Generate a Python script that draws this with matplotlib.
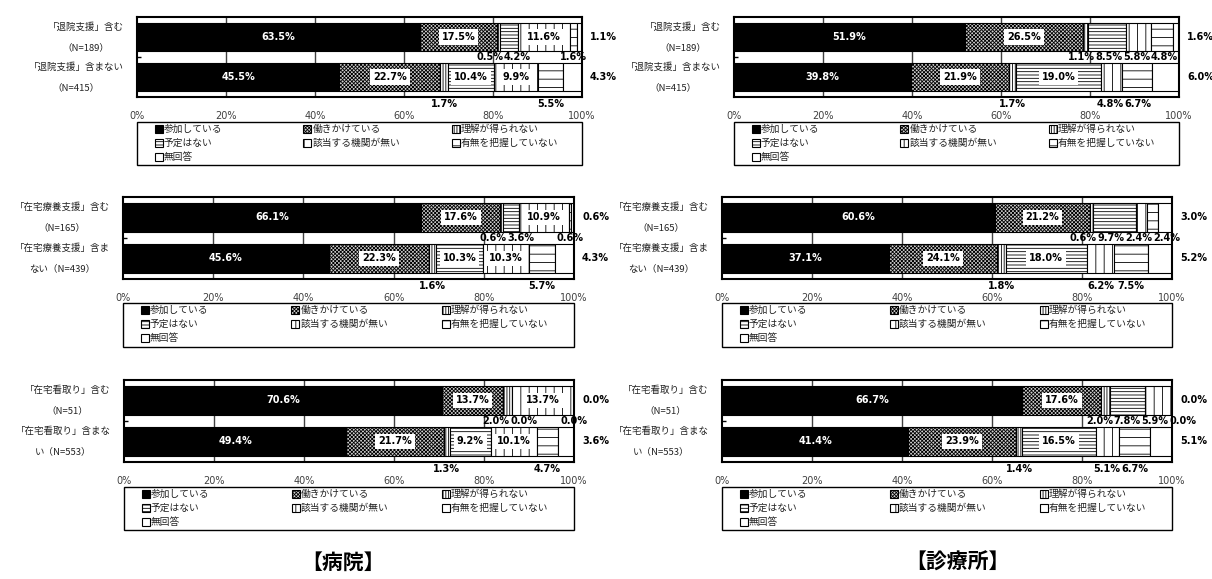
import matplotlib
matplotlib.use('Agg')
import matplotlib.pyplot as plt
from matplotlib.patches import Rectangle
import matplotlib.transforms as mtransforms

plt.rcParams['font.family'] = ['Noto Sans CJK JP', 'DejaVu Sans']
plt.rcParams['hatch.linewidth'] = 0.6

# answer categories (stack order) and their fills
answers = ['参加している', '働きかけている', '理解が得られない', '予定はない',
           '該当する機関が無い', '有無を把握していない', '無回答']
fills = ['black', '#d0d0d0', 'white', 'white', 'white', 'white', 'white']
hatches = ['', 'xxxxxxxxx', '||||||', '-----', '||', '--', '']

row_labels = [
    ['「退院支援」含む\n（N=189）', '「退院支援」含まない\n（N=415）'],
    ['「在宅療養支援」含む\n（N=165）', '「在宅療養支援」含ま\nない（N=439）'],
    ['「在宅看取り」含む\n（N=51）', '「在宅看取り」含まな\nい（N=553）'],
]

# 病院
hosp_discharge = [[63.5, 17.5, 0.5, 4.2, 11.6, 1.6, 1.1],
                  [45.5, 22.7, 1.7, 10.4, 9.9, 5.5, 4.3]]
hosp_homecare = [[66.1, 17.6, 0.6, 3.6, 10.9, 0.6, 0.6],
                 [45.6, 22.3, 1.6, 10.3, 10.3, 5.7, 4.3]]
hosp_endoflife = [[70.6, 13.7, 2.0, 0.0, 13.7, 0.0, 0.0],
                  [49.4, 21.7, 1.3, 9.2, 10.1, 4.7, 3.6]]
# 診療所
clin_discharge = [[51.9, 26.5, 1.1, 8.5, 5.8, 4.8, 1.6],
                  [39.8, 21.9, 1.7, 19.0, 4.8, 6.7, 6.0]]
clin_homecare = [[60.6, 21.2, 0.6, 9.7, 2.4, 2.4, 3.0],
                 [37.1, 24.1, 1.8, 18.0, 6.2, 7.5, 5.2]]
clin_endoflife = [[66.7, 17.6, 2.0, 7.8, 5.9, 0.0, 0.0],
                  [41.4, 23.9, 1.4, 16.5, 5.1, 6.7, 5.1]]

xticks = [0, 20, 40, 60, 80, 100]

W, H = 1212, 579
fig = plt.figure(figsize=(W / 100, H / 100), dpi=100)

def px_axes(l, r, t, b):
    return fig.add_axes([l / W, 1 - b / H, (r - l) / W, (b - t) / H])

def spread(centers, minsep):
    c = list(centers)
    for _ in range(60):
        for i in range(len(c) - 1):
            d = c[i + 1] - c[i]
            if d < minsep:
                s = (minsep - d) / 2
                c[i] -= s
                c[i + 1] += s
    return c

def draw_panel(box, legbox, data, labels, inside_min):
    ax = px_axes(*box)
    for r, vals in enumerate(data):
        left = 0
        for k, v in enumerate(vals):
            ax.barh(r, v, left=left, height=0.7, color=fills[k], hatch=hatches[k],
                    edgecolor='black', linewidth=0.8, zorder=2)
            left += v
    ax.set_xlim(0, 100)
    ax.set_ylim(1.5, -0.5)
    ax.set_xticks(xticks)
    ax.set_xticklabels([f'{t}%' for t in xticks], family='DejaVu Sans',
                       fontsize=7, color='#404040')
    ax.tick_params(axis='x', length=0, pad=10)
    ax.set_yticks([0.5])
    ax.set_yticklabels([''])
    ax.tick_params(axis='y', direction='in', length=3, width=1)
    for s in ax.spines.values():
        s.set_linewidth(1.5)
    for t in xticks[1:-1]:
        ax.axvline(t, color='#404040', linewidth=1, zorder=1)

    # category labels left of the axes
    for r, lab in enumerate(labels):
        ax.text(-0.03, r, lab, transform=mtransforms.blended_transform_factory(ax.transAxes, ax.transData),
                ha='right', va='center', multialignment='center', fontsize=6.8,
                linespacing=2.6, color='#222222')

    under = mtransforms.blended_transform_factory(ax.transData, ax.transAxes)
    side = mtransforms.blended_transform_factory(ax.transAxes, ax.transData)
    for r, vals in enumerate(data):
        starts = [sum(vals[:k]) for k in range(len(vals))]
        outs = []
        for k, v in enumerate(vals[:-1]):
            mid = starts[k] + v / 2
            if k == 0:
                ax.text(mid, r, f'{v:.1f}%', ha='center', va='center', color='white',
                        fontsize=7, fontweight='bold', family='DejaVu Sans', zorder=4)
            elif v >= inside_min:
                ax.text(mid, r, f'{v:.1f}%', ha='center', va='center', color='black',
                        fontsize=7, fontweight='bold', family='DejaVu Sans', zorder=4,
                        bbox=dict(boxstyle='square,pad=0.3', fc='white', ec='none'))
            else:
                outs.append((mid, v))
        pos = spread([m for m, _ in outs], 6.2)
        for x, (_, v) in zip(pos, outs):
            if r == 0:
                ax.text(x, 0.5, f'{v:.1f}%', ha='center', va='center', fontsize=7,
                        fontweight='bold', family='DejaVu Sans', zorder=4)
            else:
                ax.text(x, -0.085, f'{v:.1f}%', transform=under, ha='center', va='center',
                        fontsize=7, fontweight='bold', family='DejaVu Sans', zorder=4,
                        clip_on=False)
        ax.text(1.018, r, f'{vals[-1]:.1f}%', transform=side, ha='left', va='center',
                fontsize=7, fontweight='bold', family='DejaVu Sans')

    # legend box with 3 columns, filled row by row
    l, r_, t, b = legbox
    fig.patches.append(Rectangle((l / W, 1 - b / H), (r_ - l) / W, (b - t) / H,
                                 transform=fig.transFigure, fc='white', ec='black', lw=1))
    colw = (r_ - l) / 3.0
    for i, name in enumerate(answers):
        row, col = divmod(i, 3)
        mx = l + 18 + col * colw
        my = t + 7 + row * 14
        fig.patches.append(Rectangle((mx / W, 1 - (my + 4) / H), 8 / W, 8 / H,
                                     transform=fig.transFigure, fc=fills[i], hatch=hatches[i],
                                     ec='black', lw=0.8))
        fig.text((mx + 9) / W, 1 - my / H, name, ha='left', va='center', fontsize=7,
                 color='#222222')

draw_panel((137, 582, 17, 97), (137, 582, 122, 165), hosp_discharge, row_labels[0], 9)
draw_panel((123, 574, 197, 279), (123, 574, 303, 347), hosp_homecare, row_labels[1], 9)
draw_panel((124, 574, 380, 462), (124, 574, 487, 530), hosp_endoflife, row_labels[2], 9)
draw_panel((734, 1179, 17, 97), (734, 1179, 122, 165), clin_discharge, row_labels[0], 10)
draw_panel((722, 1172, 197, 279), (722, 1172, 303, 347), clin_homecare, row_labels[1], 10)
draw_panel((722, 1172, 380, 462), (722, 1172, 487, 530), clin_endoflife, row_labels[2], 10)

fig.text(343 / W, 1 - 562 / H, '【病院】', ha='center', va='center', fontsize=15,
         fontweight='bold')
fig.text(957 / W, 1 - 562 / H, '【診療所】', ha='center', va='center', fontsize=15,
         fontweight='bold')

fig.savefig('out.png', dpi=100)
